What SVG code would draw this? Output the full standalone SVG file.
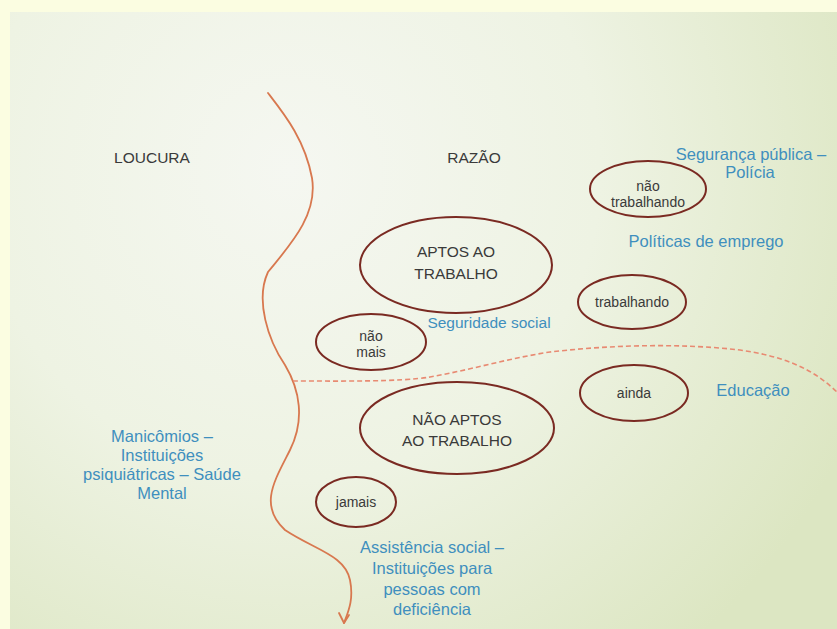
<svg xmlns="http://www.w3.org/2000/svg" width="837" height="629" viewBox="0 0 837 629">
<defs>
<radialGradient id="bg" cx="290" cy="170" r="620" gradientUnits="userSpaceOnUse">
<stop offset="0" stop-color="#F5F7F1"/>
<stop offset="0.5" stop-color="#EEF3E3"/>
<stop offset="1" stop-color="#DCE6C2"/>
</radialGradient>
<style>
.lbl{font-family:"Liberation Sans",Arial,sans-serif;fill:#3A3A3A;text-anchor:middle}
.big{font-size:15.5px}
.sm{font-size:14px}
.blue{font-family:"Liberation Sans",Arial,sans-serif;fill:#3F8FBE;text-anchor:middle;font-size:16.5px}
.ell{fill:none;stroke:#7A2A22;stroke-width:2}
.curve{fill:none;stroke:#D8784F;stroke-width:1.8;stroke-linecap:round;stroke-linejoin:round}
.dash{fill:none;stroke:#E88A72;stroke-width:1.6;stroke-dasharray:5 3}
</style>
</defs>
<rect x="0" y="0" width="837" height="629" fill="#FBFDE1"/>
<rect x="10" y="12" width="827" height="617" fill="url(#bg)"/>

<g id="connectors">
<path class="curve" d="M268,93 C285,115 305,140 312,178 C318,215 290,245 268,272 C255,300 268,340 285,365 C300,390 305,420 290,450 C275,480 258,505 285,530 C315,550 345,555 350,580 C354,600 348,612 344,623"/>
<path class="curve" d="M339,613 L344,623 L349,615"/>
<path class="dash" d="M293,381 C340,381 400,382 430,377 C470,370 510,358 550,352 C610,345 680,343 740,350 C780,356 810,366 837,392"/>
</g>

<g id="loucura"><text class="lbl big" x="152" y="163">LOUCURA</text></g>
<g id="razao"><text class="lbl big" x="474" y="163">RAZÃO</text></g>

<g id="seguranca"><text class="blue" x="751" y="160">Segurança pública –</text><text class="blue" x="750" y="178">Polícia</text></g>

<g id="nao-trabalhando">
<ellipse class="ell" cx="648" cy="189" rx="58" ry="28"/>
<text class="lbl sm" x="648" y="191">não</text>
<text class="lbl sm" x="648" y="207">trabalhando</text>
</g>

<g id="politicas"><text class="blue" x="706" y="247">Políticas de emprego</text></g>

<g id="aptos">
<ellipse class="ell" cx="456" cy="265" rx="96" ry="48"/>
<text class="lbl big" x="456" y="257">APTOS AO</text>
<text class="lbl big" x="456" y="279">TRABALHO</text>
</g>

<g id="trabalhando">
<ellipse class="ell" cx="632" cy="302" rx="54" ry="27"/>
<text class="lbl sm" x="632" y="307">trabalhando</text>
</g>

<g id="seguridade"><text class="blue" x="489" y="328" style="font-size:15.5px">Seguridade social</text></g>

<g id="nao-mais">
<ellipse class="ell" cx="371" cy="342" rx="55" ry="28"/>
<text class="lbl sm" x="371" y="341">não</text>
<text class="lbl sm" x="371" y="357">mais</text>
</g>

<g id="ainda">
<ellipse class="ell" cx="634" cy="393" rx="54" ry="28"/>
<text class="lbl sm" x="634" y="398">ainda</text>
</g>

<g id="educacao"><text class="blue" x="753" y="396">Educação</text></g>

<g id="nao-aptos">
<ellipse class="ell" cx="457" cy="428" rx="97" ry="46"/>
<text class="lbl big" x="457" y="425">NÃO APTOS</text>
<text class="lbl big" x="457" y="446">AO TRABALHO</text>
</g>

<g id="jamais">
<ellipse class="ell" cx="356" cy="502" rx="40" ry="25"/>
<text class="lbl sm" x="356" y="507">jamais</text>
</g>

<g id="manicomios">
<text class="blue" x="162" y="442">Manicômios –</text>
<text class="blue" x="162" y="461">Instituições</text>
<text class="blue" x="162" y="480">psiquiátricas – Saúde</text>
<text class="blue" x="162" y="499">Mental</text>
</g>

<g id="assistencia">
<text class="blue" x="432" y="553">Assistência social –</text>
<text class="blue" x="432" y="574">Instituições para</text>
<text class="blue" x="432" y="595">pessoas com</text>
<text class="blue" x="432" y="615">deficiência</text>
</g>
</svg>
